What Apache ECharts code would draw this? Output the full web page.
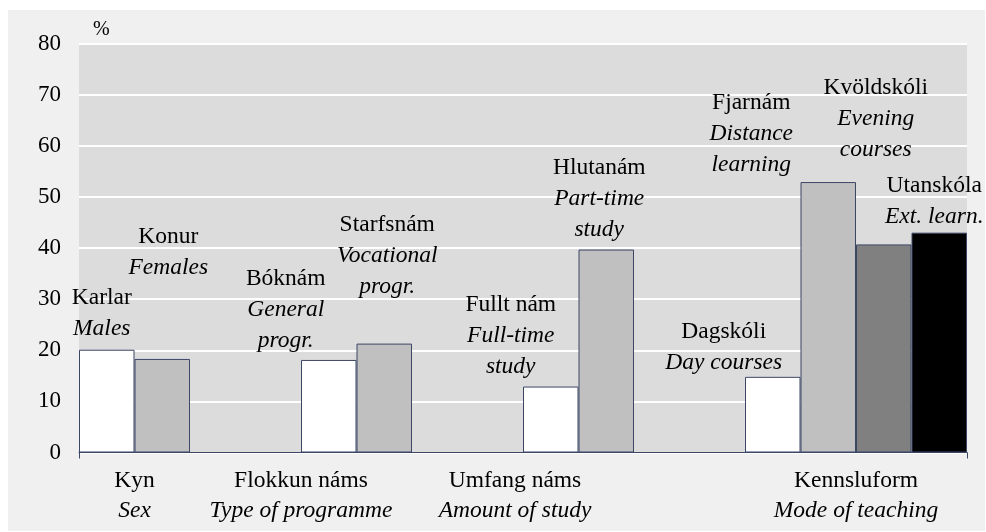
<!DOCTYPE html>
<html>
<head>
<meta charset="utf-8">
<script src="https://cdn.jsdelivr.net/npm/echarts@6/dist/echarts.min.js"></script>
<style>
  html, body { margin: 0; padding: 0; background: #ffffff; }
  #wrap { position: relative; width: 986px; height: 532px; background: #ffffff; }
  #panel { position: absolute; left: 8px; top: 10px; width: 977px; height: 521px; background: #f0f0f0; }
  #chart { position: absolute; left: 0; top: 0; width: 986px; height: 532px; }
</style>
</head>
<body>
<div id="wrap"><div id="panel"></div><div id="chart"></div></div>
<script>
// ---- Data ----
// 16 category slots (empty slots separate the groups)
const slotNames = ['Males', 'Females', '', '', 'General progr.', 'Vocational progr.', '', '',
                   'Full-time study', 'Part-time study', '', '',
                   'Day courses', 'Distance learning', 'Evening courses', 'Ext. learn.'];
const values = [20.1, 18.3, null, null, 18.1, 21.3, null, null,
                12.9, 39.7, null, null, 14.8, 52.9, 40.7, 43.0];
const labelsIs = ['Karlar', 'Konur', '', '', 'Bóknám', 'Starfsnám', '', '',
                  'Fullt nám', 'Hlutanám', '', '', 'Dagskóli', 'Fjarnám', 'Kvöldskóli', 'Utanskóla'];
const labelsEn = ['Males', 'Females', '', '', 'General\nprogr.', 'Vocational\nprogr.', '', '',
                  'Full-time\nstudy', 'Part-time\nstudy', '', '',
                  'Day courses', 'Distance\nlearning', 'Evening\ncourses', 'Ext. learn.'];
// group labels sit on slot boundaries 0..16
const groupLabels = ['', 'Kyn\nSex', '', '', 'Flokkun náms\nType of programme', '', '', '',
                     'Umfang náms\nAmount of study', '', '', '', '', '',
                     'Kennsluform\nMode of teaching', '', ''];
const yTicks = [0, 10, 20, 30, 40, 50, 60, 70, 80];

// ---- Styles ----
const barColors = ['#ffffff', '#c0c0c0', null, null, '#ffffff', '#c0c0c0', null, null,
                   '#ffffff', '#c0c0c0', null, null, '#ffffff', '#c0c0c0', '#808080', '#000000'];
// label offsets [dx, dy] relative to the top-centre of each bar
const labelOffsets = [[-5, -5], [6, -76], null, null, [-43, -4], [3, -41], null, null,
                      [-40, -4], [-7, -4], null, null, [-49, 1], [-77, -2], [-8, -79], [-5, 0]];
const FONT = 'Liberation Serif';
const FS = 23.5;

const rich = {
  a: { fontFamily: FONT, fontSize: FS, color: '#000', lineHeight: 31 },
  b: { fontFamily: FONT, fontSize: FS, fontStyle: 'italic', color: '#000', lineHeight: 31 }
};

function richText(is, en) {
  const lines = ['{a|' + is + '}'];
  en.split('\n').forEach(l => lines.push('{b|' + l + '}'));
  return lines.join('\n');
}

const seriesData = values.map((v, i) => {
  if (v === null) return null;
  return {
    value: v,
    itemStyle: { color: barColors[i], borderColor: '#3c4766', borderWidth: 1 },
    label: {
      show: true,
      position: 'top',
      distance: 0,
      offset: labelOffsets[i],
      formatter: richText(labelsIs[i], labelsEn[i]),
      rich: rich
    }
  };
});

const chart = echarts.init(document.getElementById('chart'), null, { renderer: 'canvas' });
chart.setOption({
  backgroundColor: 'transparent',
  animation: false,
  grid: {
    left: 79, right: 19, top: 43.5, bottom: 79.5,
    show: true, backgroundColor: '#dcdcdc', borderWidth: 0
  },
  xAxis: [
    {
      type: 'category',
      data: slotNames,
      boundaryGap: true,
      axisLine: { show: true, lineStyle: { color: '#3c4766', width: 1 } },
      axisTick: { show: false },
      axisLabel: { show: false },
      splitLine: { show: false }
    },
    {
      type: 'category',
      data: groupLabels,
      boundaryGap: false,
      position: 'bottom',
      axisLine: { show: false },
      axisTick: {
        show: true, length: 6,
        interval: function (idx) { return idx === 0 || idx === groupLabels.length - 1; },
        lineStyle: { color: '#3c4766', width: 1 }
      },
      axisLabel: {
        show: true, interval: 0, margin: 13,
        formatter: function (v, idx) {
          if (!v) return '';
          const p = v.split('\n');
          const s = idx === 8 ? 'Shift' : '';
          return '{a' + s + '|' + p[0] + '}\n{b' + s + '|' + p[1] + '}';
        },
        rich: {
          a: { fontFamily: FONT, fontSize: FS, color: '#000', lineHeight: 30 },
          b: { fontFamily: FONT, fontSize: FS, fontStyle: 'italic', color: '#000', lineHeight: 30 },
          aShift: { fontFamily: FONT, fontSize: FS, color: '#000', lineHeight: 30, padding: [0, 16, 0, 0] },
          bShift: { fontFamily: FONT, fontSize: FS, fontStyle: 'italic', color: '#000', lineHeight: 30, padding: [0, 16, 0, 0] }
        }
      },
      splitLine: { show: false }
    }
  ],
  yAxis: {
    type: 'value',
    min: yTicks[0], max: yTicks[yTicks.length - 1], interval: 10,
    name: '%',
    nameLocation: 'end',
    nameGap: 4,
    nameTextStyle: { fontFamily: FONT, fontSize: 20, color: '#000', align: 'left', padding: [0, 0, 0, 14] },
    axisLine: { show: false },
    axisTick: { show: false },
    axisLabel: { fontFamily: FONT, fontSize: 23, color: '#000', margin: 18 },
    splitLine: { show: true, lineStyle: { color: '#ffffff', width: 2 } }
  },
  series: [{
    type: 'bar',
    xAxisIndex: 0,
    data: seriesData,
    barWidth: '100%',
    barCategoryGap: 0,
    z: 3
  }]
});
</script>
</body>
</html>
